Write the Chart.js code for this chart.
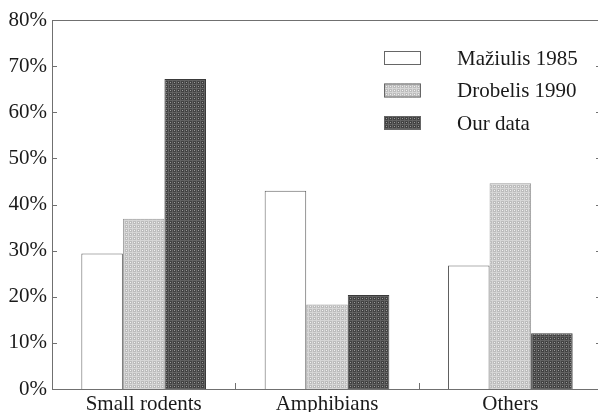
<!DOCTYPE html>
<html>
<head>
<meta charset="utf-8">
<script src="https://cdn.jsdelivr.net/npm/chart.js@4/dist/chart.umd.min.js"></script>
<style>
  html, body { margin: 0; padding: 0; background: #fff; overflow: hidden; }
  #wrap { position: absolute; left: 0; top: 0; width: 602px; height: 412px; }
</style>
</head>
<body>
<div id="wrap"><canvas id="chart" width="602" height="412"></canvas></div>
<script>
const categories = ['Small rodents', 'Amphibians', 'Others'];
const seriesNames = ['Mažiulis 1985', 'Drobelis 1990', 'Our data'];
const mazVals = [29.4, 43.0, 26.8];
const drobVals = [36.9, 18.3, 44.6];
const ourVals = [67.2, 20.4, 12.1];
const yTicks = [0, 10, 20, 30, 40, 50, 60, 70, 80];

const axisColor = '#707070';
const fontSerif = '"Liberation Serif", "DejaVu Serif", serif';

// little 4x4 tiles imitating the printed screen patterns
const makePattern = (base, line, dot) => {
  const c = document.createElement('canvas');
  c.width = 4;
  c.height = 4;
  const g = c.getContext('2d');
  g.fillStyle = base;
  g.fillRect(0, 0, 4, 4);
  g.fillStyle = line;
  g.fillRect(0, 0, 4, 1);
  g.fillRect(0, 0, 1, 4);
  g.fillStyle = dot;
  g.fillRect(2, 2, 1, 1);
  return g.createPattern(c, 'repeat');
};

const lightFill = makePattern('#bcbcbc', '#d6d6d6', '#f2f2f2');
const darkFill = makePattern('#424242', '#626262', '#9a9a9a');

const frameTicks = {
  id: 'frameTicks',
  afterDraw(chart) {
    const { ctx, chartArea: a, scales: { x, y } } = chart;
    ctx.save();
    ctx.strokeStyle = axisColor;
    ctx.lineWidth = 1;
    ctx.beginPath();
    // top frame line
    ctx.moveTo(a.left, a.top + 0.5);
    ctx.lineTo(a.right, a.top + 0.5);
    // inward y ticks on both sides
    y.ticks.forEach((t, i) => {
      const py = Math.round(y.getPixelForTick(i)) + 0.5;
      if (t.value === 0 || t.value === 80) return;
      ctx.moveTo(a.left, py);
      ctx.lineTo(a.left + 5, py);
      ctx.moveTo(a.right - 6, py);
      ctx.lineTo(a.right, py);
    });
    // x ticks at the group boundaries
    for (let i = 0; i < categories.length - 1; i++) {
      const px = Math.round((x.getPixelForValue(i) + x.getPixelForValue(i + 1)) / 2) + 0.5;
      ctx.moveTo(px, a.bottom);
      ctx.lineTo(px, a.bottom - 6);
    }
    ctx.stroke();

    // legend inside the plot
    ctx.font = '21px ' + fontSerif;
    ctx.textBaseline = 'middle';
    chart.data.datasets.forEach((ds, i) => {
      const by = 51 + i * 32.5;
      ctx.fillStyle = ds.backgroundColor;
      ctx.fillRect(384, by, 37, 14);
      ctx.strokeStyle = '#666';
      ctx.strokeRect(384.5, by + 0.5, 36, 13);
      ctx.fillStyle = '#1a1a1a';
      ctx.fillText(ds.label, 457, by + 8);
    });
    ctx.restore();
  }
};

new Chart(document.getElementById('chart'), {
  type: 'bar',
  data: {
    labels: categories,
    datasets: [
      { label: seriesNames[0], data: mazVals, backgroundColor: '#ffffff', borderColor: '#606060', borderWidth: 1 },
      { label: seriesNames[1], data: drobVals, backgroundColor: lightFill, borderColor: '#9a9a9a', borderWidth: 1 },
      { label: seriesNames[2], data: ourVals, backgroundColor: darkFill, borderColor: '#3a3a3a', borderWidth: 1 },
    ],
  },
  options: {
    responsive: false,
    animation: false,
    devicePixelRatio: 1,
    layout: { padding: { top: 20, right: 0, left: 0, bottom: 0 } },
    plugins: {
      legend: { display: false },
      tooltip: { enabled: false },
    },
    datasets: {
      bar: { categoryPercentage: 0.68, barPercentage: 1.0 },
    },
    scales: {
      x: {
        grid: { display: false, drawTicks: false },
        border: { display: true, color: axisColor, width: 1 },
        ticks: { color: '#1a1a1a', font: { family: fontSerif, size: 21 }, padding: 3 },
        afterFit(scale) { scale.height = 23; },
      },
      y: {
        min: 0,
        max: 80,
        afterBuildTicks(scale) { scale.ticks = yTicks.map((v) => ({ value: v })); },
        grid: { display: false, drawTicks: false },
        border: { display: true, color: axisColor, width: 1 },
        ticks: {
          color: '#1a1a1a',
          font: { family: fontSerif, size: 21 },
          padding: 5,
          callback: (v) => v + '%',
        },
        afterFit(scale) { scale.width = 52; },
      },
    },
  },
  plugins: [frameTicks],
});
</script>
</body>
</html>
